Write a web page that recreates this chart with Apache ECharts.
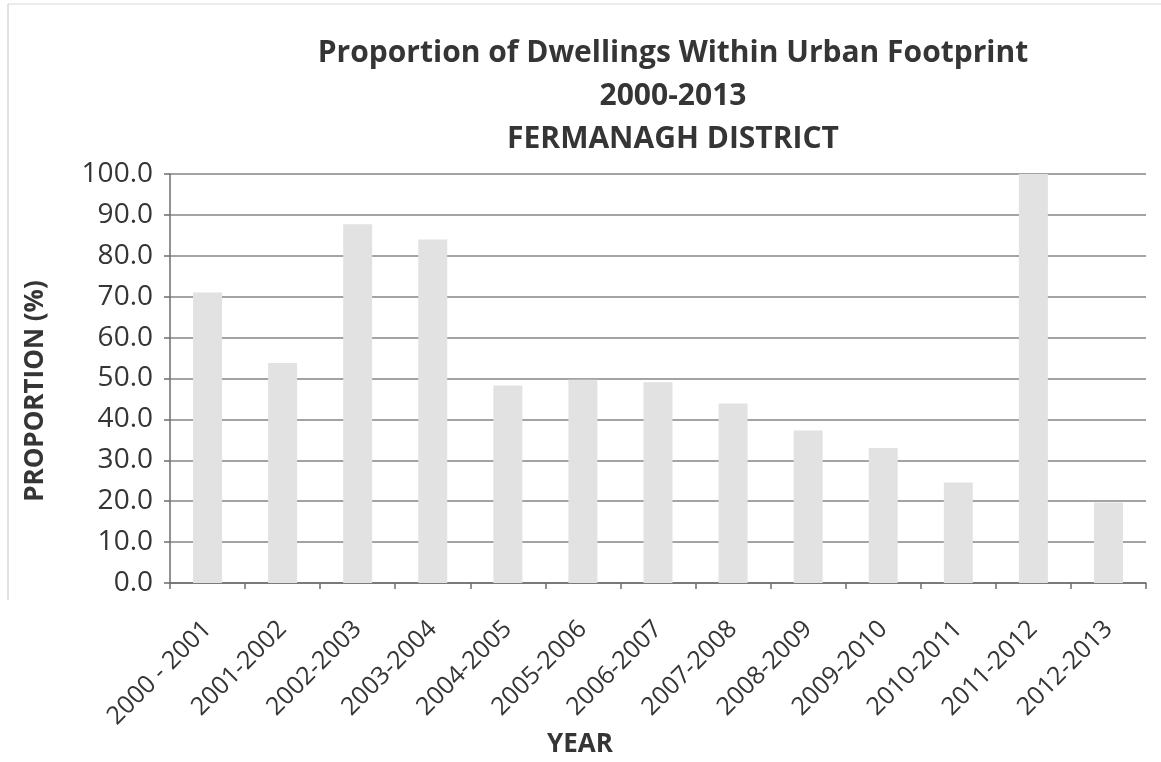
<!DOCTYPE html>
<html>
<head>
<meta charset="utf-8">
<title>Proportion of Dwellings Within Urban Footprint</title>
<script src="https://cdn.jsdelivr.net/npm/echarts@6/dist/echarts.min.js"></script>
<style>
  html, body { margin: 0; padding: 0; background: #ffffff; }
  #chart { width: 1161px; height: 762px; }
</style>
</head>
<body>
<div id="chart"></div>
<script>
// Reporting years (x categories)
const years = [
  '2000 - 2001', '2001-2002', '2002-2003', '2003-2004', '2004-2005',
  '2005-2006', '2006-2007', '2007-2008', '2008-2009', '2009-2010',
  '2010-2011', '2011-2012', '2012-2013'
];
// Share of new dwellings inside the urban footprint (%)
const proportion = [71.0, 53.8, 87.7, 84.0, 48.3, 49.7, 49.1, 43.9, 37.3, 33.0, 24.6, 100.0, 19.7];
// Value axis range
const yMin = 0;
const yMax = 100;
const yStep = 10;

const titleLines = [
  'Proportion of Dwellings Within Urban Footprint',
  '2000-2013',
  'FERMANAGH DISTRICT'
];
const xName = 'YEAR';
const yName = 'PROPORTION (%)';

const FONT = '"Open Sans", Lato, "Liberation Sans", sans-serif';
const TEXT = '#353535';

const chart = echarts.init(document.getElementById('chart'), null, { renderer: 'canvas' });

chart.setOption({
  backgroundColor: '#ffffff',
  animation: false,
  title: {
    text: titleLines.join('\n'),
    left: 668,
    textAlign: 'center',
    top: 27,
    textStyle: {
      fontFamily: FONT,
      fontSize: 30,
      fontWeight: 'bold',
      color: TEXT,
      lineHeight: 43
    }
  },
  graphic: [
    // page frame
    { type: 'line', shape: { x1: 8, y1: 4, x2: 8, y2: 600 }, style: { stroke: '#c4c4c4', lineWidth: 1 } },
    { type: 'line', shape: { x1: 8, y1: 4, x2: 1161, y2: 4 }, style: { stroke: '#d8d8d8', lineWidth: 1 } },
    // axis titles
    {
      type: 'text', x: 580, y: 745,
      style: { text: xName, x: 0, y: 0, align: 'center', verticalAlign: 'middle',
               font: 'bold 26px ' + FONT, fill: TEXT }
    },
    {
      type: 'text', rotation: Math.PI / 2, x: 36, y: 391,
      style: { text: yName, x: 0, y: 0, align: 'center', verticalAlign: 'middle',
               font: 'bold 26px ' + FONT, fill: TEXT }
    }
  ],
  grid: {
    left: 170,
    right: 15,
    top: 174,
    bottom: 179,
    containLabel: false
  },
  xAxis: {
    type: 'category',
    data: years,
    boundaryGap: true,
    axisLine: { show: true, lineStyle: { color: '#6e6e6e', width: 1.5 } },
    axisTick: { show: true, alignWithLabel: false, length: 6, lineStyle: { color: '#6e6e6e', width: 1.5 } },
    axisLabel: {
      rotate: 45,
      interval: 0,
      margin: 42,
      fontFamily: FONT,
      fontSize: 25,
      color: TEXT
    },
    splitLine: { show: false }
  },
  yAxis: {
    type: 'value',
    min: yMin,
    max: yMax,
    interval: yStep,
    axisLine: { show: true, lineStyle: { color: '#6e6e6e', width: 1.5 } },
    axisTick: { show: true, length: 6, lineStyle: { color: '#6e6e6e', width: 1.5 } },
    axisLabel: {
      margin: 17,
      fontFamily: FONT,
      fontSize: 28,
      color: TEXT,
      formatter: v => v.toFixed(1)
    },
    splitLine: { show: true, lineStyle: { color: '#858585', width: 1.5 } }
  },
  series: [{
    type: 'bar',
    data: proportion,
    barWidth: 29,
    itemStyle: { color: '#e2e2e2' },
    z: 3
  }]
});
</script>
</body>
</html>
